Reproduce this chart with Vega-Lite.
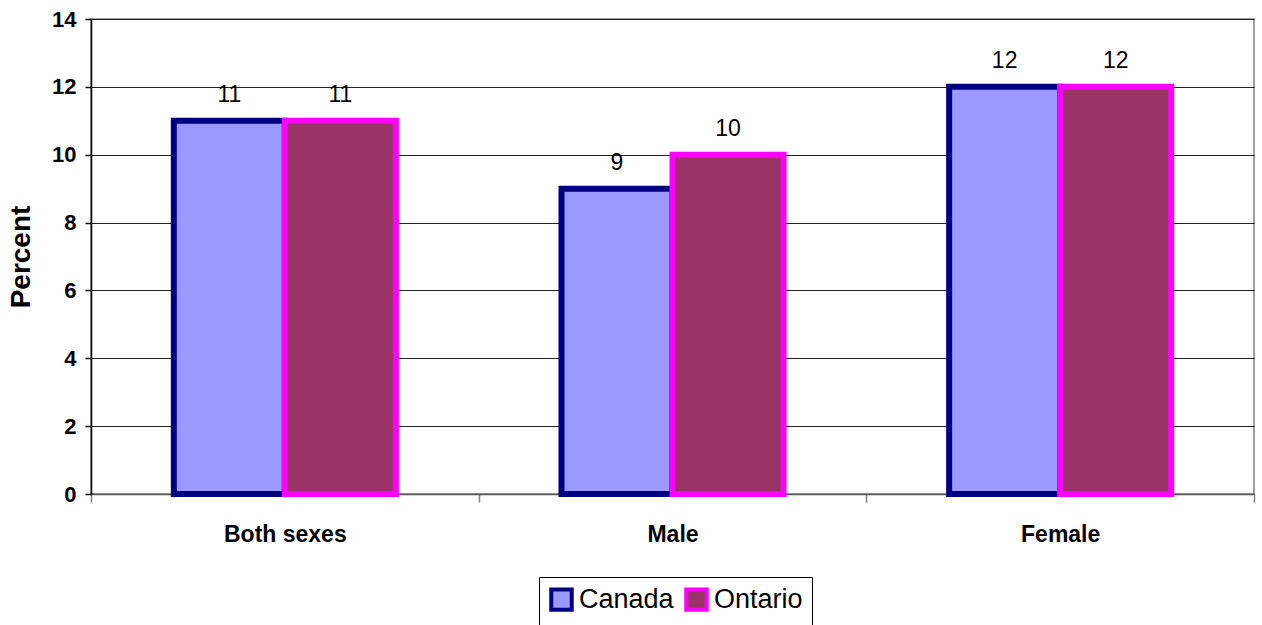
{
  "$schema": "https://vega.github.io/schema/vega-lite/v6.json",
  "autosize": {"type": "none"},
  "width": 1163,
  "height": 475,
  "padding": {"left": 91, "top": 19, "right": 8, "bottom": 131},
  "background": "white",
  "config": {
    "font": "Liberation Sans",
    "view": {"stroke": "#808080", "strokeWidth": 1.5}
  },
  "data": {
    "values": [
      {"group": "Both sexes", "region": "Canada", "value": 11},
      {"group": "Both sexes", "region": "Ontario", "value": 11},
      {"group": "Male", "region": "Canada", "value": 9},
      {"group": "Male", "region": "Ontario", "value": 10},
      {"group": "Female", "region": "Canada", "value": 12},
      {"group": "Female", "region": "Ontario", "value": 12}
    ]
  },
  "encoding": {
    "x": {
      "field": "group",
      "type": "nominal",
      "sort": ["Both sexes", "Male", "Female"],
      "scale": {"paddingInner": 0, "paddingOuter": 0},
      "axis": {
        "title": null,
        "labelAngle": 0,
        "labelFont": "Liberation Sans",
        "labelFontWeight": "bold",
        "labelFontSize": 23,
        "labelColor": "black",
        "labelPadding": 21,
        "tickBand": "extent",
        "tickColor": "#808080",
        "tickWidth": 1.5,
        "tickSize": 8,
        "domainColor": "#555555",
        "domainWidth": 1.5,
        "grid": false
      }
    },
    "xOffset": {"field": "region", "type": "nominal", "sort": ["Canada", "Ontario"], "scale": {"paddingInner": 0, "paddingOuter": 0.746}},
    "y": {
      "field": "value",
      "type": "quantitative",
      "scale": {"domain": [0, 14], "nice": false},
      "axis": {
        "title": "Percent",
        "titleFont": "Liberation Sans",
        "titleFontWeight": "bold",
        "titleFontSize": 28,
        "titleColor": "black",
        "titlePadding": 16,
        "values": [0, 2, 4, 6, 8, 10, 12, 14],
        "labelFont": "Liberation Sans",
        "labelFontWeight": "bold",
        "labelFontSize": 22,
        "labelColor": "black",
        "labelPadding": 9,
        "tickColor": "black",
        "tickSize": 6,
        "tickWidth": 1.5,
        "domainColor": "black",
        "domainWidth": 1.5,
        "grid": true,
        "gridColor": "#222222",
        "gridWidth": 1
      }
    }
  },
  "layer": [
    {
      "mark": {"type": "bar", "strokeWidth": 6},
      "encoding": {
        "fill": {
          "field": "region",
          "type": "nominal",
          "sort": ["Canada", "Ontario"],
          "scale": {"domain": ["Canada", "Ontario"], "range": ["#9999FF", "#993366"]},
          "legend": {
            "title": null,
            "orient": "none",
            "legendX": 448,
            "legendY": 558,
            "direction": "horizontal",
            "symbolType": "square",
            "symbolSize": 420,
            "symbolStrokeWidth": 4,
            "symbolOpacity": 1,
            "labelFont": "Liberation Sans",
            "labelFontSize": 27,
            "labelColor": "black",
            "labelOffset": 4,
            "columnPadding": 4,
            "strokeColor": "black",
            "padding": 9,
            "fillColor": "white"
          }
        },
        "stroke": {
          "field": "region",
          "type": "nominal",
          "sort": ["Canada", "Ontario"],
          "scale": {"domain": ["Canada", "Ontario"], "range": ["#000080", "#FF00FF"]},
          "legend": {
            "title": null,
            "orient": "none",
            "legendX": 448,
            "legendY": 558,
            "direction": "horizontal",
            "symbolType": "square",
            "symbolSize": 420,
            "symbolStrokeWidth": 4,
            "labelFont": "Liberation Sans",
            "labelFontSize": 27,
            "labelColor": "black",
            "labelOffset": 4,
            "columnPadding": 4,
            "strokeColor": "black",
            "padding": 9,
            "fillColor": "white"
          }
        }
      }
    },
    {
      "mark": {"type": "text", "baseline": "alphabetic", "dy": -19, "fontSize": 23, "font": "Liberation Sans", "color": "black"},
      "encoding": {
        "text": {"field": "value", "type": "quantitative"}
      }
    }
  ]
}
